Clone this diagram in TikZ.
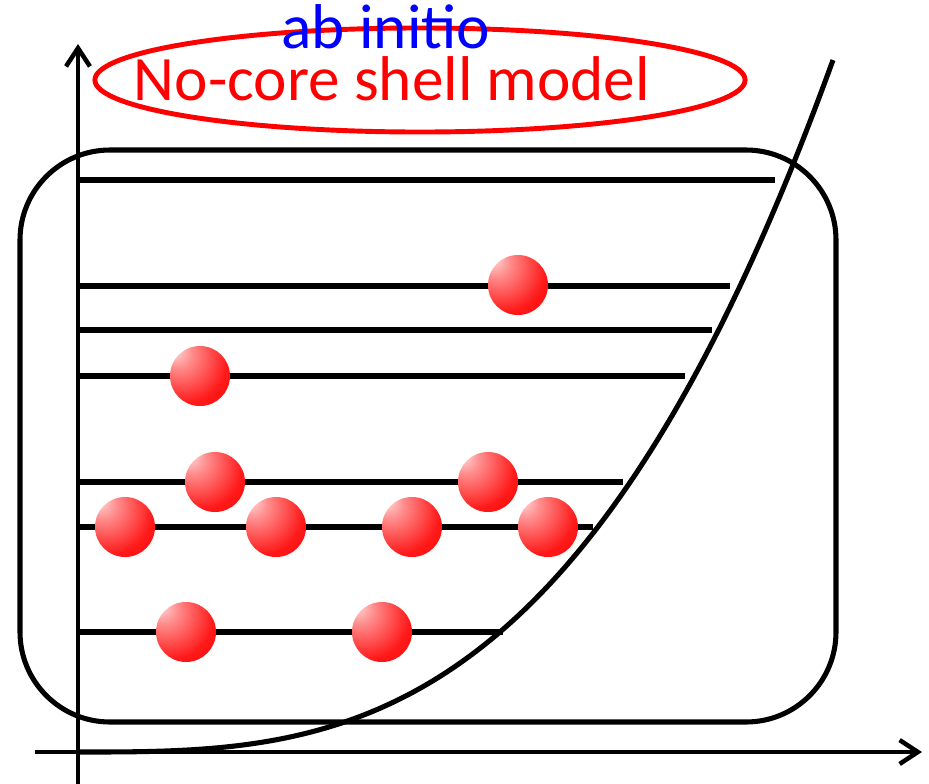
\documentclass[tikz,border=0pt]{standalone}
\usepackage{fontspec}
\setmainfont{Carlito}
\usepackage{tikz}
\usetikzlibrary{arrows.meta, shapes.geometric}

\pgfdeclareradialshading{nucleonball}{\pgfpoint{-22bp}{22bp}}{%
    color(0bp)=(red!15); color(12bp)=(red!45); color(35bp)=(red!90); color(55bp)=(red); color(72bp)=(red!80!black); color(82bp)=(red!65!black)}

\begin{document}
\begin{tikzpicture}[
        x=0.025cm, y=-0.025cm,
        axis/.style={line width=3.5pt, -{Straight Barb[length=13pt, width=17pt, line width=3.2pt]}},
        level/.style={line width=3.6pt},
        frame/.style={draw, line width=3.6pt, rounded corners=2.25cm},
        nucleon/.style={circle, minimum size=1.5cm, inner sep=0pt, shading=nucleonball},
        label/.style={font=\fontsize{45}{52}\selectfont, inner sep=0pt}
    ]
    \useasboundingbox (0,0) rectangle (929,784);

    % Axes
    \coordinate (origin) at (78,752);
    \coordinate (xstart) at (35,752);
    \coordinate (xend) at (922,752);
    \coordinate (ystart) at (78,784);
    \coordinate (yend) at (78,44);
    \draw[axis] (xstart) -- (xend);
    \draw[axis] (ystart) -- (yend);

    % Model space box
    \draw[frame] (20,150) rectangle (836,722);

    % Potential well
    \draw[line width=3.6pt] plot[domain=0:753, samples=120, smooth] ({80+\x}, {752-692*(\x/753)^3});

    % Energy levels
    \foreach \y/\xe in {180/775, 286/730, 330/712, 376/685, 482/623, 527/593, 632/503} {
        \draw[level] (78,\y) coordinate (lvl\y) -- (\xe,\y);
    }

    % Nucleons
    \foreach \x/\y [count=\n] in {518/285, 200/376, 215/482, 488/482, 125/527, 276/527, 412/527, 548/527, 186/632, 382/632} {
        \node[nucleon] (n\n) at (\x,\y) {};
    }

    % Title
    \node[draw=red, line width=3.5pt, ellipse, minimum width=16.25cm, minimum height=2.6cm] (oval) at (420,80) {};
    \node[label, text=red, anchor=base] (ncsm) at (392,100) {No-core shell model};
    \node[label, text=blue, anchor=base] (abinitio) at (386,48) {ab initio};

\end{tikzpicture}
\end{document}
